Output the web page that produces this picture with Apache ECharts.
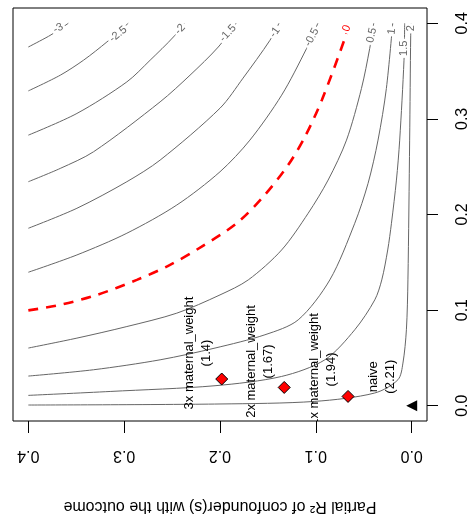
<!DOCTYPE html>
<html><head><meta charset="utf-8">
<script src="https://cdn.jsdelivr.net/npm/echarts@6/dist/echarts.min.js"></script>
<style>html,body{margin:0;padding:0;background:#fff}#c{width:474px;height:529px}</style>
</head><body><div id="c"></div>
<script>
const FONT = '"Liberation Sans", Arial, Helvetica, sans-serif';
const tickValues = [0, 0.1, 0.2, 0.3, 0.4];
const tickLabels = ['0.0', '0.1', '0.2', '0.3', '0.4'];
const xTitle = 'Partial R\u00b2 of confounder(s) with the outcome';

// contour points: [partial R2 with outcome, partial R2 with treatment]
const contourLevels = ['-3', '-2.5', '-2', '-1.5', '-1', '-0.5', '0', '0.5', '1', '1.5', '2'];
const contourM3  = [[0.400,0.3752],[0.3789,0.3864],[0.3688,0.3927],[0.3583,0.400]];
const contourM25 = [[0.400,0.3293],[0.3667,0.3457],[0.3424,0.3614],[0.3180,0.3805],[0.2958,0.400]];
const contourM2  = [[0.400,0.2830],[0.3493,0.3057],[0.2972,0.3387],[0.2729,0.3614],[0.2486,0.3857],[0.2375,0.400]];
const contourM15 = [[0.400,0.2343],[0.3667,0.2482],[0.3320,0.2656],[0.2625,0.3178],[0.2313,0.3457],[0.2018,0.3752],[0.1833,0.400]];
const contourM1  = [[0.400,0.1856],[0.3493,0.2065],[0.2972,0.2343],[0.2625,0.2569],[0.2000,0.3112],[0.1760,0.3426],[0.1479,0.3822],[0.1385,0.400]];
const contourM05 = [[0.400,0.1396],[0.3493,0.1577],[0.2972,0.1804],[0.2451,0.2099],[0.2000,0.2447],[0.1688,0.2778],[0.1357,0.3248],[0.1097,0.3736],[0.0979,0.400]];
const contour0   = [[0.400,0.0997],[0.3667,0.1055],[0.3284,0.1159],[0.2868,0.1316],[0.2521,0.1473],[0.2191,0.1664],[0.1826,0.1908],[0.1549,0.2186],[0.1289,0.2517],[0.1110,0.2820],[0.0938,0.3196],[0.0698,0.3840],[0.0656,0.400]];
const contourP05 = [[0.400,0.0603],[0.3493,0.0707],[0.2972,0.0828],[0.2451,0.0968],[0.2000,0.1159],[0.1705,0.1316],[0.1357,0.1629],[0.1080,0.2013],[0.0872,0.2360],[0.0680,0.2778],[0.0524,0.3318],[0.0438,0.3736],[0.0396,0.400]];
const contourP1  = [[0.400,0.0310],[0.3320,0.0376],[0.2625,0.0480],[0.2052,0.0603],[0.1531,0.0742],[0.1184,0.0898],[0.0854,0.1316],[0.0594,0.1908],[0.0455,0.2326],[0.0351,0.2778],[0.0264,0.3318],[0.0198,0.400]];
const contourP15 = [[0.400,0.0108],[0.3146,0.0149],[0.2052,0.0209],[0.1357,0.0306],[0.0906,0.0480],[0.0594,0.0794],[0.0385,0.1107],[0.0312,0.1316],[0.0250,0.1629],[0.0211,0.1908],[0.0159,0.2360],[0.0125,0.2778],[0.0080,0.3614],[0.0073,0.400]];
const contourP2  = [[0.400,0.0007],[0.2000,0.0018],[0.1010,0.0045],[0.0385,0.0133],[0.0143,0.0272],[0.0091,0.0446],[0.0055,0.0794],[0.0039,0.1316],[0.0021,0.2778],[0.0010,0.3875],[0.0005,0.400]];
const contourLabelPos = [[0.3688,0.3948],[0.3063,0.3885],[0.2417,0.3937],[0.1917,0.3896],[0.1427,0.3906],[0.1042,0.3854],[0.0677,0.3948],[0.0417,0.3875],[0.0208,0.3916],[0.0083,0.3739],[0.0010,0.3948]];

// benchmarks
const benchNames = ['3x maternal_weight', '2x maternal_weight', '1x maternal_weight'];
const benchEstimates = ['(1.4)', '(1.67)', '(1.94)'];
const benchOutcome = [0.1982, 0.1330, 0.0664];
const benchTreatment = [0.0279, 0.0191, 0.0097];
const naiveName = 'naive';
const naiveEstimate = '(2.21)';
const naivePoint = [0, 0];

// layout (not data)
const contourLabelRotation = [27, 39, 47, 48, 55, 62, 70, 78, 85, 90, 90];
const benchLabelShift = [[-24, -26], [-24, -26], [-25, -27]];
const naiveLabelShift = [-30, -29];

const contours = [contourM3, contourM25, contourM2, contourM15, contourM1, contourM05, contour0, contourP05, contourP1, contourP15, contourP2];

const series = [];
contours.forEach((pts, i) => {
  const thr = contourLevels[i] === '0';
  series.push({
    type: 'line', data: pts, smooth: 0.3, showSymbol: false, symbol: 'none',
    silent: true, z: thr ? 3 : 2,
    lineStyle: thr ? { color: '#ff0000', width: 2.6, type: [10, 8], cap: 'butt' }
                   : { color: '#666666', width: 1 }
  });
});

series.push({
  type: 'custom', z: 4, clip: false, silent: true,
  data: contourLabelPos.map((p, i) => [p[0], p[1], i]),
  encode: { x: 0, y: 1 },
  renderItem: (params, api) => {
    const i = api.value(2);
    const c = api.coord([api.value(0), api.value(1)]);
    const thr = contourLevels[i] === '0';
    return {
      type: 'text', x: c[0], y: c[1], rotation: contourLabelRotation[i] * Math.PI / 180,
      style: {
        text: contourLevels[i], fill: thr ? '#ff0000' : '#666666',
        fontSize: 11, fontFamily: FONT, align: 'center', verticalAlign: 'middle',
        backgroundColor: '#ffffff', padding: [0, 2], lineHeight: 10
      }
    };
  }
});

series.push({
  type: 'scatter', z: 5, silent: true,
  data: benchOutcome.map((u, i) => [u, benchTreatment[i]]),
  symbol: 'diamond', symbolSize: 12,
  itemStyle: { color: '#ff0000', borderColor: '#000', borderWidth: 1, opacity: 1 }
});
series.push({
  type: 'scatter', z: 5, silent: true,
  data: [naivePoint], symbol: 'triangle', symbolSize: 11, symbolRotate: 90,
  itemStyle: { color: '#000', opacity: 1 }
});

const benchLabelData = benchOutcome.map((u, i) => [u, benchTreatment[i], i]);
benchLabelData.push([naivePoint[0], naivePoint[1], 3]);
series.push({
  type: 'custom', z: 6, clip: true, silent: true,
  data: benchLabelData, encode: { x: 0, y: 1 },
  renderItem: (params, api) => {
    const i = api.value(2);
    const c = api.coord([api.value(0), api.value(1)]);
    const sh = i < 3 ? benchLabelShift[i] : naiveLabelShift;
    const txt = i < 3 ? benchNames[i] + '\n' + benchEstimates[i] : naiveName + '\n' + naiveEstimate;
    return {
      type: 'text', x: c[0] + sh[0], y: c[1] + sh[1], rotation: Math.PI / 2,
      style: { text: txt, fill: '#000', fontSize: 13, fontFamily: FONT,
               align: 'center', verticalAlign: 'middle', lineHeight: 17 }
    };
  }
});

const chart = echarts.init(document.getElementById('c'), null, { renderer: 'canvas' });
chart.setOption({
  animation: false,
  backgroundColor: '#fff',
  grid: { left: 13, right: 47, top: 8, bottom: 108, show: true, borderColor: '#000', borderWidth: 1, backgroundColor: 'transparent' },
  xAxis: {
    type: 'value', min: -0.016, max: 0.416, inverse: true, position: 'bottom',
    splitLine: { show: false }, axisLine: { show: false, onZero: false },
    axisTick: { show: true, length: 12, lineStyle: { color: '#000', width: 1 }, customValues: tickValues },
    axisLabel: { customValues: tickValues, rotate: 180, margin: 34, align: 'center', verticalAlign: 'middle',
      fontSize: 16, fontFamily: FONT, color: '#000',
      formatter: v => tickLabels[tickValues.findIndex(t => Math.abs(t - v) < 1e-9)] },
    name: xTitle, nameLocation: 'middle', nameGap: 85, nameRotate: 180,
    nameTextStyle: { fontSize: 16, fontFamily: FONT, color: '#000', align: 'center', verticalAlign: 'middle' }
  },
  yAxis: {
    type: 'value', min: -0.016, max: 0.416, position: 'right',
    splitLine: { show: false }, axisLine: { show: false, onZero: false },
    axisTick: { show: true, length: 11, lineStyle: { color: '#000', width: 1 }, customValues: tickValues },
    axisLabel: { customValues: tickValues, rotate: 90, margin: 36, align: 'center', verticalAlign: 'middle',
      fontSize: 16, fontFamily: FONT, color: '#000',
      formatter: v => tickLabels[tickValues.findIndex(t => Math.abs(t - v) < 1e-9)] }
  },
  series: series
});
</script></body></html>
